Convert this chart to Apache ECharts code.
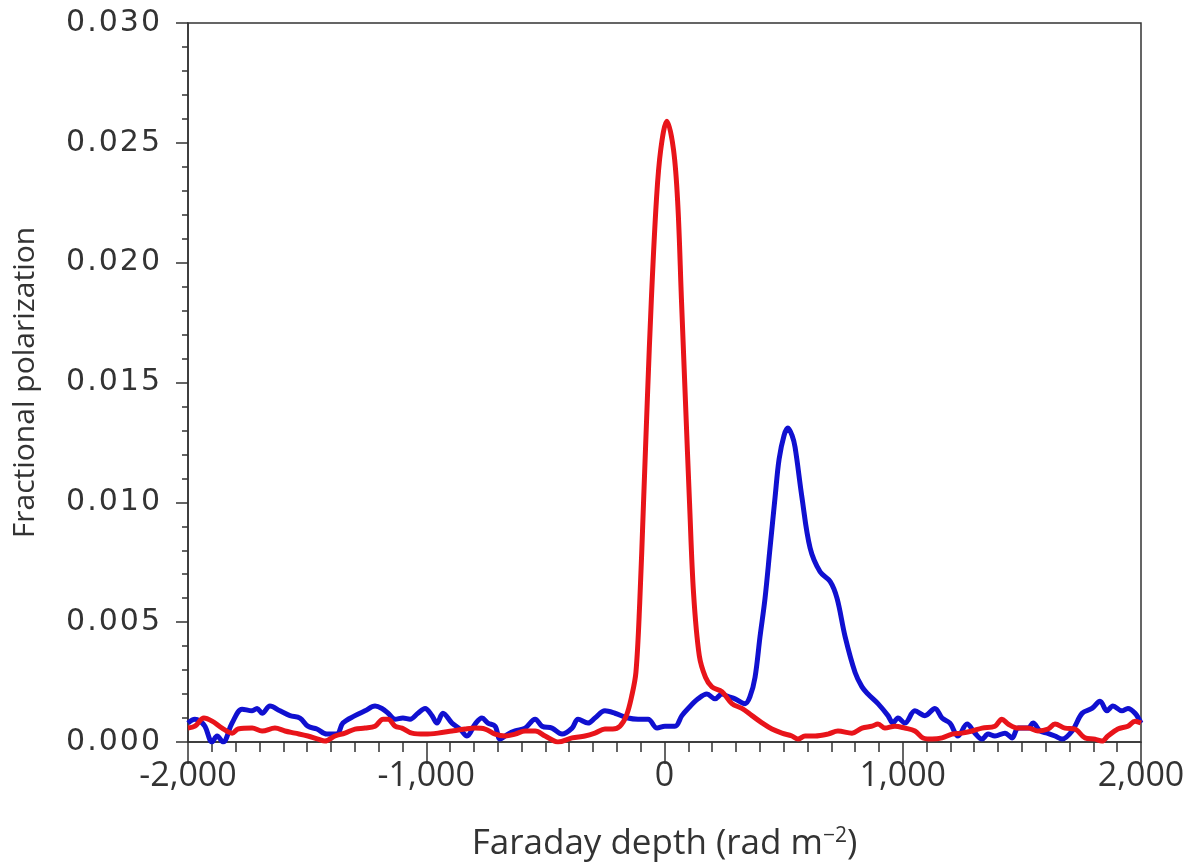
<!DOCTYPE html>
<html>
<head>
<meta charset="utf-8">
<script src="https://cdn.jsdelivr.net/npm/echarts@6/dist/echarts.min.js"></script>
<style>html,body{margin:0;padding:0;background:#fff;}#c{width:1193px;height:867px;}</style>
</head>
<body>
<div id="c"></div>
<script>
// Faraday depth (rad m^-2) and fractional polarization
const redDepth = [-2000,-1971,-1933,-1899,-1857,-1815,-1790,-1731,-1689,-1635,-1593,-1551,-1497,-1454,-1425,-1383,-1341,-1299,-1257,-1215,-1181,-1160,-1131,-1102,-1060,-1005,-951,-892,-837,-795,-753,-711,-669,-627,-585,-543,-501,-447,-388,-334,-292,-250,-217,-187,-160,-138,-120,-104,-88,-72,-55,-34,-16,10,38,56,71,88,105,122,146,172,199,241,283,325,367,409,451,493,535,560,590,632,686,728,787,829,871,896,925,967,1009,1051,1085,1123,1165,1207,1249,1291,1333,1387,1416,1442,1484,1526,1568,1610,1639,1681,1723,1765,1807,1836,1861,1903,1945,1975,2000];
const redFrac = [0.00058,0.00066,0.0010,0.00087,0.00058,0.00037,0.00054,0.00058,0.00046,0.00058,0.00046,0.00037,0.00025,0.00012,0.00004,0.00025,0.00037,0.00054,0.00058,0.00066,0.00095,0.00095,0.00066,0.00058,0.00037,0.00033,0.00037,0.00046,0.00054,0.00058,0.00054,0.00033,0.00025,0.00033,0.00046,0.00046,0.00025,0.0,0.00017,0.00025,0.00037,0.00054,0.00054,0.00066,0.0011,0.0019,0.0029,0.0058,0.0100,0.0143,0.0185,0.0226,0.0247,0.0259,0.0247,0.0224,0.0185,0.0142,0.0100,0.0062,0.0036,0.0027,0.0023,0.0021,0.0016,0.0014,0.0011,0.0008,0.00054,0.00037,0.00025,0.00012,0.00025,0.00025,0.00033,0.00046,0.00037,0.00058,0.00066,0.00075,0.00058,0.00066,0.00058,0.00046,0.00017,0.00012,0.00017,0.00033,0.00037,0.00046,0.00058,0.00066,0.00095,0.00075,0.00058,0.00058,0.00046,0.00054,0.00075,0.00058,0.00054,0.00017,0.00012,0.00004,0.00025,0.00054,0.00066,0.00087,0.00079];

const blueDepth = [-2000,-1971,-1950,-1929,-1899,-1878,-1853,-1815,-1773,-1731,-1710,-1689,-1656,-1614,-1572,-1530,-1497,-1459,-1417,-1375,-1350,-1299,-1257,-1215,-1186,-1160,-1131,-1098,-1068,-1035,-1005,-976,-955,-930,-892,-858,-829,-795,-766,-741,-711,-690,-657,-627,-585,-543,-514,-472,-430,-388,-363,-321,-292,-250,-208,-153,-111,-69,-31,2,44,73,99,141,178,212,241,266,296,338,359,380,401,422,443,464,481,502,518,535,548,577,611,653,695,724,758,800,829,854,896,938,959,980,1009,1051,1093,1135,1165,1198,1232,1270,1303,1333,1358,1387,1429,1459,1484,1526,1547,1576,1606,1639,1669,1711,1753,1794,1828,1857,1882,1920,1945,1975,2000];
const blueFrac = [0.00079,0.00095,0.00087,0.00066,0.0,0.00025,0.0,0.00079,0.00137,0.0013,0.0014,0.0012,0.0015,0.0013,0.0011,0.0010,0.00066,0.00054,0.00033,0.00033,0.00079,0.0011,0.0013,0.0015,0.0014,0.0012,0.00095,0.0010,0.00095,0.0012,0.0014,0.0011,0.00079,0.0012,0.00079,0.00054,0.00025,0.00075,0.0010,0.00079,0.00066,0.00012,0.00033,0.00046,0.00058,0.00095,0.00066,0.00058,0.00033,0.00058,0.00095,0.00079,0.0010,0.0013,0.0012,0.0010,0.00095,0.00095,0.00058,0.00066,0.00066,0.0011,0.0014,0.0018,0.0020,0.0018,0.0020,0.0019,0.0018,0.0016,0.0019,0.0027,0.0044,0.0060,0.0081,0.0102,0.0118,0.0128,0.0131,0.0128,0.0123,0.0102,0.0081,0.0071,0.0067,0.0060,0.0044,0.0029,0.0023,0.0020,0.0016,0.0011,0.00079,0.0010,0.00079,0.0013,0.0011,0.0014,0.0010,0.00079,0.00025,0.00075,0.00037,0.00012,0.00033,0.00025,0.00037,0.00017,0.00058,0.00058,0.00079,0.00046,0.00037,0.00025,0.00012,0.00046,0.0012,0.0014,0.0017,0.0013,0.0015,0.0013,0.0014,0.0012,0.00079];

const xTicks = { min: -2000, max: 2000, step: 1000 };
const yTicks = { min: 0, max: 0.03, step: 0.005 };

const zip = (xs, ys) => xs.map((x, i) => [x, ys[i]]);
const axisColor = '#333';
const spaced = s => s.split('').map(c => '{d|' + c + '}').join('');

const chart = echarts.init(document.getElementById('c'), null, { renderer: 'canvas' });
chart.setOption({
  animation: false,
  backgroundColor: '#fff',
  grid: { left: 188, right: 52, top: 23, bottom: 121, show: true, borderColor: axisColor, borderWidth: 1.5, backgroundColor: 'transparent' },
  xAxis: {
    type: 'value', min: xTicks.min, max: xTicks.max, interval: xTicks.step,
    name: '{a|Faraday depth (rad m}{s|−2}{a|)}',
    nameLocation: 'middle', nameGap: 84,
    nameTextStyle: { rich: {
      a: { fontFamily: 'Open Sans', fontSize: 35, color: '#333' },
      s: { fontFamily: 'Open Sans', fontSize: 21, color: '#333', verticalAlign: 'top', padding: [0, 0, 16, 0] }
    } },
    axisLine: { onZero: false, lineStyle: { color: axisColor, width: 1.5 } },
    axisTick: { length: 22, lineStyle: { color: axisColor, width: 1.5 } },
    minorTick: { show: true, splitNumber: 10, length: 10, lineStyle: { color: axisColor, width: 1.5 } },
    splitLine: { show: false },
    axisLabel: { margin: 17, fontFamily: 'Open Sans', fontSize: 34, color: '#333',
      formatter: v => (v < 0 ? '-' : '') + Math.abs(v).toLocaleString('en-US') }
  },
  yAxis: {
    type: 'value', min: yTicks.min, max: yTicks.max, interval: yTicks.step,
    name: 'Fractional polarization', nameLocation: 'middle', nameGap: 148,
    nameTextStyle: { fontFamily: 'Open Sans', fontSize: 30, color: '#333' },
    axisLine: { onZero: false, lineStyle: { color: axisColor, width: 1.5 } },
    axisTick: { length: 12, lineStyle: { color: axisColor, width: 1.5 } },
    minorTick: { show: true, splitNumber: 5, length: 6, lineStyle: { color: axisColor, width: 1.5 } },
    splitLine: { show: false },
    axisLabel: { margin: 27, color: '#333',
      rich: { d: { fontFamily: 'DejaVu Sans', fontSize: 30, color: '#333', padding: [0, 1, 0, 1] } },
      formatter: v => spaced(v.toFixed(3)) }
  },
  series: [
    { type: 'line', data: zip(blueDepth, blueFrac), showSymbol: false, smooth: 0.35,
      lineStyle: { color: '#1010d0', width: 5 }, z: 2 },
    { type: 'line', data: zip(redDepth, redFrac), showSymbol: false, smooth: 0.35,
      lineStyle: { color: '#e8141a', width: 5 }, z: 3 }
  ]
});
</script>
</body>
</html>
